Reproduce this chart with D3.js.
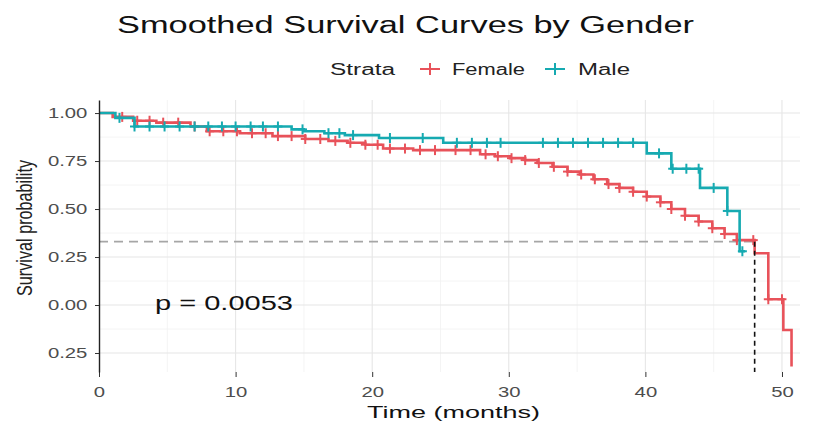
<!DOCTYPE html>
<html>
<head>
<meta charset="utf-8">
<script src="https://cdn.jsdelivr.net/npm/d3@7"></script>
<style>
  body { margin: 0; background: #fff; }
  text { font-family: "Liberation Sans", Arial, sans-serif; }
</style>
</head>
<body>
<div id="wrapper"></div>
<script>
// survival steps (time in months, survival probability)
const femaleTime = [0, 1.0, 2.5, 4.2, 6.7, 7.9, 10.3, 12.7, 15.1, 16.8, 18.2, 19.5, 20.8, 23.0, 27.9, 29.0, 30.1, 31.2, 32.1, 33.2, 34.3, 35.2, 36.2, 37.2, 38.1, 39.1, 40.1, 41.1, 41.9, 42.9, 43.9, 44.9, 45.8, 46.7, 48.0, 49.0, 50.1, 50.7];
const femaleSurv = [1.0, 0.98, 0.96, 0.95, 0.93, 0.905, 0.895, 0.88, 0.865, 0.855, 0.845, 0.835, 0.815, 0.807, 0.785, 0.775, 0.765, 0.755, 0.74, 0.72, 0.695, 0.68, 0.655, 0.63, 0.61, 0.59, 0.565, 0.535, 0.50, 0.465, 0.435, 0.40, 0.37, 0.338, 0.27, 0.03, -0.13, -0.32];
const maleTime = [0, 1.2, 2.6, 14.1, 15.0, 16.5, 18.0, 20.5, 25.2, 40.1, 41.9, 44.0, 46.0, 46.9, 47.3];
const maleSurv = [1.0, 0.975, 0.93, 0.915, 0.905, 0.895, 0.885, 0.87, 0.845, 0.79, 0.71, 0.61, 0.49, 0.28, 0.28];

// censoring marks
const femaleCensor = [1.7, 2.8, 3.7, 4.7, 5.8, 7.0, 8.1, 9.1, 10.1, 11.2, 12.2, 13.1, 14.1, 15.1, 16.2, 17.3, 18.4, 19.5, 20.4, 21.3, 22.4, 23.5, 24.6, 26.1, 27.2, 28.3, 29.2, 30.2, 31.2, 32.2, 33.3, 34.3, 35.3, 36.3, 37.3, 38.1, 39.1, 40.1, 41.1, 41.9, 42.9, 43.9, 44.9, 45.8, 46.7, 47.9, 49.0, 50.0];
const maleCensor = [1.5, 2.6, 3.7, 4.8, 5.9, 7.0, 8.0, 9.0, 10.0, 11.1, 12.0, 13.1, 14.9, 16.8, 17.6, 18.6, 21.3, 23.7, 26.2, 27.3, 28.4, 29.4, 32.5, 33.6, 34.7, 35.8, 36.9, 38.0, 39.1, 41.0, 42.0, 43.0, 43.9, 45.0, 46.0, 47.1];

const xTicks = [0, 10, 20, 30, 40, 50];
const xMinor = [5, 15, 25, 35, 45];
const yTicks = [1, 0.75, 0.5, 0.25, 0, -0.25];
const yTickLabels = ["1.00", "0.75", "0.50", "0.25", "0.00", "0.25"];
const yMinor = [0.875, 0.625, 0.375, 0.125, -0.125];

const medianSurv = 0.33;
const medianTime = 48.0;
const pText = "p = 0.0053";

const colors = { Female: "#e8525a", Male: "#16aab1" };
const stretch = 1.45; // text in the picture is drawn wide

const dimensions = {
  width: 822,
  height: 426,
  margins: { top: 100, right: 22, bottom: 54, left: 99 }
};
dimensions.boundedWidth = dimensions.width - dimensions.margins.left - dimensions.margins.right;
dimensions.boundedHeight = dimensions.height - dimensions.margins.top - dimensions.margins.bottom;

const svg = d3.select("#wrapper").append("svg")
  .attr("width", dimensions.width)
  .attr("height", dimensions.height);

const bounds = svg.append("g")
  .attr("transform", `translate(${dimensions.margins.left},${dimensions.margins.top})`);

const xScale = d3.scaleLinear().domain([0, 51.32]).range([0, dimensions.boundedWidth]);
const yScale = d3.scaleLinear().domain([-0.349, 1.068]).range([dimensions.boundedHeight, 0]);

// grid
bounds.append("g").selectAll("line").data(yMinor).join("line")
  .attr("x1", 0).attr("x2", dimensions.boundedWidth)
  .attr("y1", d => yScale(d)).attr("y2", d => yScale(d))
  .attr("stroke", "#f1f1f1").attr("stroke-width", 0.8);
bounds.append("g").selectAll("line").data(xMinor).join("line")
  .attr("y1", 0).attr("y2", dimensions.boundedHeight)
  .attr("x1", d => xScale(d)).attr("x2", d => xScale(d))
  .attr("stroke", "#f1f1f1").attr("stroke-width", 0.8);
bounds.append("g").selectAll("line").data(yTicks).join("line")
  .attr("x1", 0).attr("x2", dimensions.boundedWidth)
  .attr("y1", d => yScale(d)).attr("y2", d => yScale(d))
  .attr("stroke", "#e6e6e6").attr("stroke-width", 1.1);
bounds.append("g").selectAll("line").data(xTicks.slice(1)).join("line")
  .attr("y1", 0).attr("y2", dimensions.boundedHeight)
  .attr("x1", d => xScale(d)).attr("x2", d => xScale(d))
  .attr("stroke", "#e6e6e6").attr("stroke-width", 1.1);

// median line (grey part)
bounds.append("line")
  .attr("x1", xScale(0)).attr("x2", xScale(medianTime))
  .attr("y1", yScale(medianSurv)).attr("y2", yScale(medianSurv))
  .attr("stroke", "#a6a6a6").attr("stroke-width", 1.7)
  .attr("stroke-dasharray", "9,6");

// curves
const stepAt = (times, surv, t) => surv[Math.max(0, d3.bisectRight(times, t) - 1)];
const lineGenerator = d3.line()
  .x(d => xScale(d[0]))
  .y(d => yScale(d[1]))
  .curve(d3.curveStepAfter);

const groups = [
  { name: "Female", times: femaleTime, surv: femaleSurv, censor: femaleCensor },
  { name: "Male", times: maleTime, surv: maleSurv, censor: maleCensor }
];

groups.forEach(g => {
  bounds.append("path")
    .attr("d", lineGenerator(g.times.map((t, i) => [t, g.surv[i]])))
    .attr("fill", "none")
    .attr("stroke", colors[g.name])
    .attr("stroke-width", 2.6);

  const marks = bounds.append("g").selectAll("g").data(g.censor).join("g")
    .attr("transform", d => `translate(${xScale(d)},${yScale(stepAt(g.times, g.surv, d))})`)
    .attr("stroke", colors[g.name])
    .attr("stroke-width", 2);
  marks.append("line").attr("x1", -4.5).attr("x2", 4.5);
  marks.append("line").attr("y1", -5).attr("y2", 5);
});

// median line (black drop)
bounds.append("line")
  .attr("x1", xScale(medianTime)).attr("x2", xScale(medianTime))
  .attr("y1", yScale(medianSurv)).attr("y2", dimensions.boundedHeight)
  .attr("stroke", "#111").attr("stroke-width", 1.6)
  .attr("stroke-dasharray", "5,4");

// axes
const xAxis = bounds.append("g")
  .attr("transform", `translate(0,${dimensions.boundedHeight})`)
  .call(d3.axisBottom(xScale).tickValues(xTicks).tickSize(5).tickPadding(10).tickSizeOuter(0));
xAxis.select(".domain").remove();
xAxis.selectAll(".tick line").attr("stroke", "#333");
xAxis.selectAll("text")
  .attr("fill", "#4d4d4d").style("font-size", "14px")
  .attr("transform", `scale(${stretch},1)`);

const yAxis = bounds.append("g")
  .call(d3.axisLeft(yScale).tickValues(yTicks).tickFormat((d, i) => yTickLabels[i])
    .tickSize(4).tickPadding(4).tickSizeOuter(0));
yAxis.select(".domain").attr("stroke", "#222").attr("stroke-width", 1.4);
yAxis.selectAll(".tick line").attr("stroke", "#333");
yAxis.selectAll("text")
  .attr("fill", "#4d4d4d").style("font-size", "14px")
  .attr("transform", `scale(${stretch},1)`);

// p value
svg.append("text")
  .attr("x", 155).attr("y", 310)
  .attr("textLength", 138).attr("lengthAdjust", "spacingAndGlyphs")
  .style("font-size", "20px").attr("fill", "#111")
  .text(pText);

// titles
svg.append("text")
  .attr("x", 117).attr("y", 33)
  .attr("textLength", 577).attr("lengthAdjust", "spacingAndGlyphs")
  .style("font-size", "23px").attr("fill", "#111")
  .text("Smoothed Survival Curves by Gender");

svg.append("text")
  .attr("x", 367).attr("y", 418)
  .attr("textLength", 173).attr("lengthAdjust", "spacingAndGlyphs")
  .style("font-size", "17px").attr("fill", "#111")
  .text("Time (months)");

svg.append("text")
  .attr("transform", `translate(32,228) scale(${stretch},1) rotate(-90)`)
  .attr("text-anchor", "middle")
  .attr("textLength", 136).attr("lengthAdjust", "spacingAndGlyphs")
  .style("font-size", "15px").attr("fill", "#222")
  .text("Survival probability");

// legend
const legend = svg.append("g");
legend.append("text")
  .attr("x", 330).attr("y", 75)
  .attr("textLength", 65).attr("lengthAdjust", "spacingAndGlyphs")
  .style("font-size", "16px").attr("fill", "#222")
  .text("Strata");
const legendItems = [
  { name: "Female", key: 430, label: 452, len: 73 },
  { name: "Male", key: 555, label: 578, len: 52 }
];
legendItems.forEach(it => {
  const k = legend.append("g")
    .attr("transform", `translate(${it.key},69)`)
    .attr("stroke", colors[it.name]).attr("stroke-width", 2);
  k.append("line").attr("x1", -10).attr("x2", 10);
  k.append("line").attr("y1", -6).attr("y2", 6);
  legend.append("text")
    .attr("x", it.label).attr("y", 75)
    .attr("textLength", it.len).attr("lengthAdjust", "spacingAndGlyphs")
    .style("font-size", "16px").attr("fill", "#222")
    .text(it.name);
});
</script>
</body>
</html>
